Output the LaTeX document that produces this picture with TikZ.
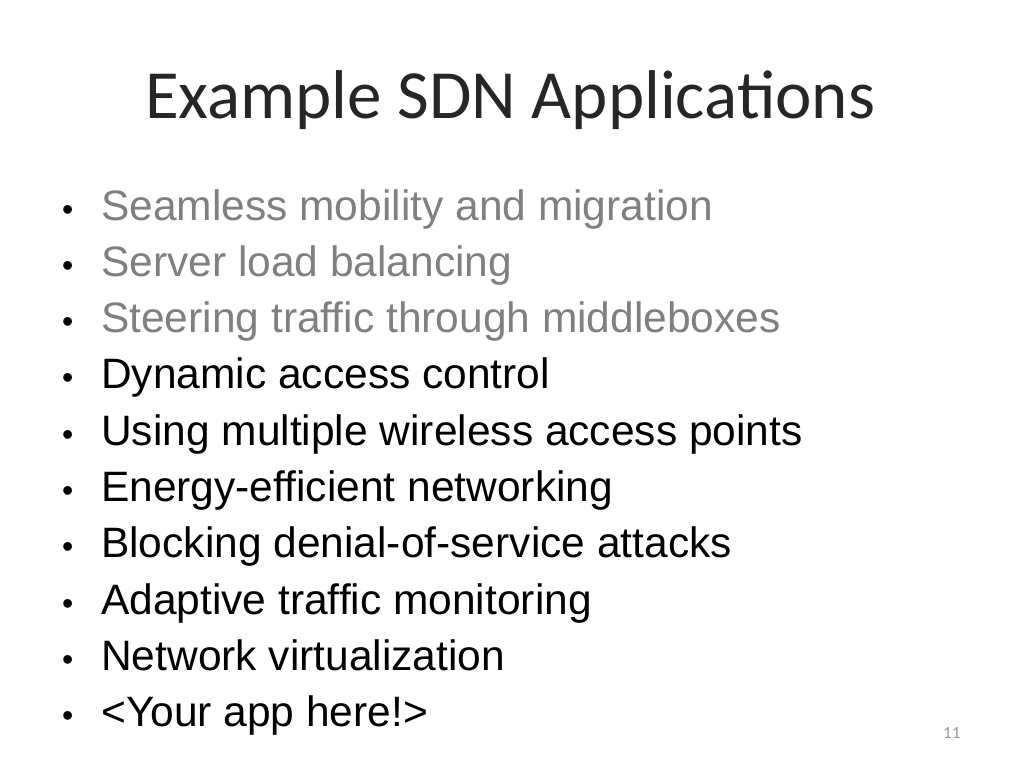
\documentclass[tikz,border=0pt]{standalone}
\usepackage{fontspec}
\setmainfont{Liberation Sans}
\newfontfamily\titlefont{Carlito}
\begin{document}
\begin{tikzpicture}[x=1pt,y=-1pt,
  item/.style={anchor=base west,inner sep=0,font=\fontsize{42.5}{46}\selectfont},
  dot/.style={anchor=base west,inner sep=0,font=\fontsize{32}{36}\selectfont}]
\useasboundingbox (0,0) rectangle (1024,768);
\node[anchor=base west,inner sep=0,font=\titlefont\fontsize{69}{76}\selectfont,text=black!85] (title) at (145,118) {Example SDN Applications};
\foreach \t [count=\i] in {Seamless mobility and migration,Server load balancing,Steering traffic through middleboxes,Dynamic access control,Using multiple wireless access points,Energy-efficient networking,Blocking denial-of-service attacks,Adaptive traffic monitoring,Network virtualization,<Your app here!>}{
  \pgfmathsetmacro{\yy}{220+56.3*(\i-1)}
  \ifnum\i<4 \def\col{black!50}\else\def\col{black}\fi
  \node[dot,text=black] (b\i) at (62,\yy) {•};
  \node[item,text=\col] (t\i) at (101,\yy) {\t};
}
\node[anchor=base west,inner sep=0,font=\titlefont\fontsize{17}{20}\selectfont,text=black!40] (pg) at (943,738) {11};
\end{tikzpicture}
\end{document}
